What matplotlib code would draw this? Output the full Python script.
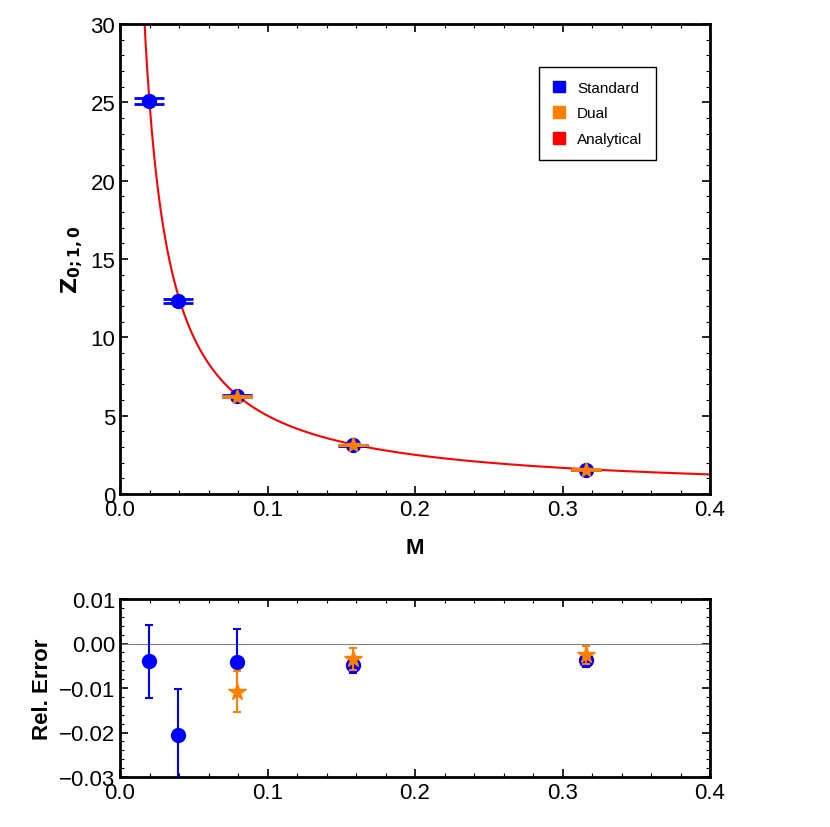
import numpy as np
import matplotlib.pyplot as plt
from matplotlib.patches import Patch
from matplotlib.ticker import AutoMinorLocator

M_std = [0.0198, 0.0395, 0.079, 0.158, 0.316]
Z_std = [25.1, 12.3, 6.25, 3.1, 1.55]
Z_std_err = [0.2, 0.12, 0.05, 0.01, 0.01]
M_dual = [0.079, 0.158, 0.316]
Z_dual = [6.22, 3.11, 1.56]
Z_dual_err = [0.03, 0.01, 0.005]

rel_std = [-0.004, -0.0205, -0.0042, -0.0048, -0.0038]
rel_std_err = [0.0082, 0.0102, 0.0075, 0.0018, 0.0015]
rel_dual = [-0.0108, -0.0035, -0.0025]
rel_dual_err = [0.0047, 0.0025, 0.002]

plt.rcParams['font.family'] = ['Liberation Sans', 'DejaVu Sans']
fig = plt.figure(figsize=(8.3, 8.28), dpi=100)
ax = fig.add_axes([120/830, 1-495/828, 590/830, 470/828])
ax2 = fig.add_axes([120/830, 1-778/828, 590/830, 178/828])

blue = '#0000ff'
orange = '#ff8000'
red = '#ff0000'

m = np.linspace(0.001, 0.4, 800)
ax.plot(m, 0.5 / m, color=red, lw=1.5, zorder=1)
ax.errorbar(M_std, Z_std, yerr=Z_std_err, fmt='o', color=blue, ms=10,
            capsize=11, elinewidth=2, capthick=2, zorder=3)
ax.errorbar(M_dual, Z_dual, yerr=Z_dual_err, fmt='*', color=orange, ms=11,
            capsize=11, elinewidth=2, capthick=2, zorder=4)
ax.set_xlim(0, 0.4)
ax.set_ylim(0, 30)
ax.set_xlabel('M', fontsize=16, fontweight='bold', labelpad=12)
ax.set_ylabel(r'$\mathbf{Z_{0;1,0}}$', fontsize=16)
ax.legend(handles=[Patch(color=blue, label='Standard'),
                   Patch(color=orange, label='Dual'),
                   Patch(color=red, label='Analytical')],
          loc='upper left', bbox_to_anchor=(0.697, 0.925), fancybox=False,
          edgecolor='black', handlelength=0.8, handleheight=0.8, fontsize=11,
          labelspacing=0.75, borderpad=0.9, framealpha=1)

ax2.axhline(0, color='gray', lw=0.8)
ax2.errorbar(M_std, rel_std, yerr=rel_std_err, fmt='o', color=blue, ms=10,
             capsize=3, elinewidth=1.5, capthick=1.5, zorder=3)
ax2.errorbar(M_dual, rel_dual, yerr=rel_dual_err, fmt='*', color=orange, ms=13,
             capsize=3, elinewidth=1.5, capthick=1.5, zorder=4)
ax2.set_xlim(0, 0.4)
ax2.set_ylim(-0.03, 0.01)
ax2.set_yticks([-0.03, -0.02, -0.01, 0.0, 0.01])
ax2.set_yticklabels(['\u22120.03', '\u22120.02', '\u22120.01', '0.00', '0.01'])
ax2.set_ylabel('Rel. Error', fontsize=16, fontweight='bold')

xt = [0.0, 0.1, 0.2, 0.3, 0.4]
for a in (ax, ax2):
    a.set_xticks(xt)
    a.set_xticklabels(['0.0', '0.1', '0.2', '0.3', '0.4'])
    a.xaxis.set_minor_locator(AutoMinorLocator(5))
    a.yaxis.set_minor_locator(AutoMinorLocator(5))
    a.tick_params(which='both', direction='in', top=True, right=True, labelsize=16)
    a.tick_params(which='major', length=6, width=1.2)
    a.tick_params(which='minor', length=3, width=0.8)
    for s in a.spines.values():
        s.set_linewidth(2)

fig.savefig('out.png')
